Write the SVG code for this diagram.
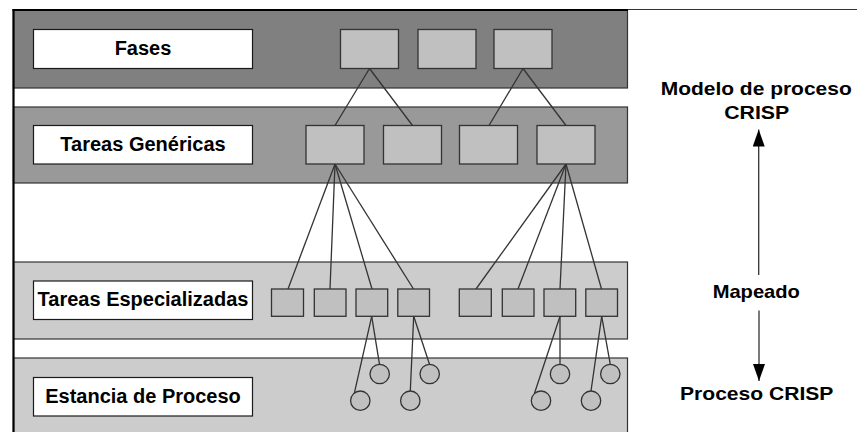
<svg xmlns="http://www.w3.org/2000/svg" width="857" height="432" viewBox="0 0 857 432">
  <style>
    .band { stroke: #333333; stroke-width: 1.2; }
    .b1 { fill: #808080; }
    .b2 { fill: #999999; }
    .b3 { fill: #cccccc; }
    .label { fill: #ffffff; stroke: #1a1a1a; stroke-width: 1.2; }
    .box { fill: #c0c0c0; stroke: #333333; stroke-width: 1.3; }
    .circ { fill: #c0c0c0; stroke: #333333; stroke-width: 1.3; }
    .link { stroke: #333333; stroke-width: 1.3; fill: none; }
    .txt { font-family: "Liberation Sans", Arial, sans-serif; font-weight: bold; font-size: 20px; fill: #000000; text-anchor: middle; }
  </style>
  <defs>
    <marker id="head" viewBox="0 0 17 12" refX="17" refY="6" markerWidth="17" markerHeight="12" markerUnits="userSpaceOnUse" orient="auto">
      <path d="M0,0 L17,6 L0,12 Z" fill="#000000"/>
    </marker>
  </defs>

  <rect width="857" height="432" fill="#ffffff"/>

  <!-- layer bands -->
  <g id="bands">
    <rect class="band b1" x="13.5" y="10" width="614" height="78"/>
    <rect class="band b2" x="13.5" y="107" width="614" height="76"/>
    <rect class="band b3" x="13.5" y="262" width="614" height="77"/>
    <rect class="band b3" x="13.5" y="358" width="614" height="80"/>
  </g>

  <!-- outer frame -->
  <g id="frame" stroke="#000000" fill="none">
    <line x1="13.5" y1="9" x2="13.5" y2="432" stroke-width="2.2"/>
    <line x1="12.5" y1="10" x2="628" y2="10" stroke-width="2"/>
    <line x1="628" y1="9.5" x2="857" y2="9.5" stroke-width="1.2" stroke="#333333"/>
  </g>

  <!-- layer labels -->
  <g id="label-fases">
    <rect class="label" x="33.5" y="29.5" width="219" height="39"/>
    <text class="txt" x="143" y="55">Fases</text>
  </g>
  <g id="label-genericas">
    <rect class="label" x="33.5" y="125.5" width="219" height="38.5"/>
    <text class="txt" x="143" y="150.5">Tareas Genéricas</text>
  </g>
  <g id="label-especializadas">
    <rect class="label" x="33.5" y="281" width="219" height="38.5"/>
    <text class="txt" x="143" y="306">Tareas Especializadas</text>
  </g>
  <g id="label-estancia">
    <rect class="label" x="33.5" y="377.5" width="219" height="38.5"/>
    <text class="txt" x="143" y="402.5">Estancia de Proceso</text>
  </g>

  <!-- connectors -->
  <g id="connectors">
    <!-- phases to generic tasks -->
    <line class="link" x1="369.5" y1="68.5" x2="335" y2="125.5"/>
    <line class="link" x1="369.5" y1="68.5" x2="412.5" y2="125.5"/>
    <line class="link" x1="523" y1="68.5" x2="489" y2="125.5"/>
    <line class="link" x1="523" y1="68.5" x2="566" y2="125.5"/>
    <!-- generic to specialized tasks -->
    <line class="link" x1="335" y1="164" x2="288" y2="289"/>
    <line class="link" x1="335" y1="164" x2="330" y2="289"/>
    <line class="link" x1="335" y1="164" x2="372" y2="289"/>
    <line class="link" x1="335" y1="164" x2="413.5" y2="289"/>
    <line class="link" x1="566" y1="164" x2="476" y2="289"/>
    <line class="link" x1="566" y1="164" x2="518" y2="289"/>
    <line class="link" x1="566" y1="164" x2="560" y2="289"/>
    <line class="link" x1="566" y1="164" x2="601.5" y2="289"/>
    <!-- specialized tasks to process instances -->
    <line class="link" x1="371.7" y1="316.3" x2="379.5" y2="364.3"/>
    <line class="link" x1="371.7" y1="316.3" x2="354.3" y2="393.3"/>
    <line class="link" x1="413.7" y1="316.3" x2="410.3" y2="391"/>
    <line class="link" x1="413.7" y1="316.3" x2="429.5" y2="364.3"/>
    <line class="link" x1="560" y1="316.3" x2="560" y2="364.3"/>
    <line class="link" x1="560" y1="316.3" x2="534.5" y2="393.3"/>
    <line class="link" x1="601.7" y1="316.3" x2="591" y2="391"/>
    <line class="link" x1="601.7" y1="316.3" x2="610.3" y2="364.3"/>
  </g>

  <!-- phases -->
  <g id="fase-1"><rect class="box" x="340.5" y="29.5" width="58" height="39"/></g>
  <g id="fase-2"><rect class="box" x="418" y="29.5" width="58" height="39"/></g>
  <g id="fase-3"><rect class="box" x="494" y="29.5" width="58" height="39"/></g>

  <!-- generic tasks -->
  <g id="generica-1"><rect class="box" x="306" y="125.5" width="58" height="38.5"/></g>
  <g id="generica-2"><rect class="box" x="383.5" y="125.5" width="58" height="38.5"/></g>
  <g id="generica-3"><rect class="box" x="459.5" y="125.5" width="58" height="38.5"/></g>
  <g id="generica-4"><rect class="box" x="537" y="125.5" width="58" height="38.5"/></g>

  <!-- specialized tasks -->
  <g id="especializada-1"><rect class="box" x="271.5" y="289" width="32" height="27.3"/></g>
  <g id="especializada-2"><rect class="box" x="314.3" y="289" width="31.7" height="27.3"/></g>
  <g id="especializada-3"><rect class="box" x="356" y="289" width="31.7" height="27.3"/></g>
  <g id="especializada-4"><rect class="box" x="397.8" y="289" width="31.7" height="27.3"/></g>
  <g id="especializada-5"><rect class="box" x="459.3" y="289" width="32" height="27.3"/></g>
  <g id="especializada-6"><rect class="box" x="502.3" y="289" width="31.7" height="27.3"/></g>
  <g id="especializada-7"><rect class="box" x="544" y="289" width="31.7" height="27.3"/></g>
  <g id="especializada-8"><rect class="box" x="585.8" y="289" width="31.7" height="27.3"/></g>

  <!-- process instances -->
  <g id="estancia-1"><circle class="circ" cx="379.7" cy="374" r="9.7"/></g>
  <g id="estancia-2"><circle class="circ" cx="360.3" cy="400.7" r="9.7"/></g>
  <g id="estancia-3"><circle class="circ" cx="410.3" cy="400.7" r="9.7"/></g>
  <g id="estancia-4"><circle class="circ" cx="429.7" cy="374" r="9.7"/></g>
  <g id="estancia-5"><circle class="circ" cx="560" cy="374" r="9.7"/></g>
  <g id="estancia-6"><circle class="circ" cx="541" cy="400.7" r="9.7"/></g>
  <g id="estancia-7"><circle class="circ" cx="591" cy="400.7" r="9.7"/></g>
  <g id="estancia-8"><circle class="circ" cx="610.3" cy="374" r="9.7"/></g>

  <!-- mapping legend -->
  <g id="mapeo">
    <text class="txt" x="756.2" y="95" textLength="191" lengthAdjust="spacingAndGlyphs" style="font-size:19px">Modelo de proceso</text>
    <text class="txt" x="756.7" y="119.3" textLength="65" lengthAdjust="spacingAndGlyphs" style="font-size:19px">CRISP</text>
    <line x1="758.7" y1="275" x2="758.7" y2="129.5" stroke="#333333" stroke-width="1.3" marker-end="url(#head)"/>
    <text class="txt" x="756.3" y="298.3" textLength="87.3" lengthAdjust="spacingAndGlyphs" style="font-size:19px">Mapeado</text>
    <line x1="759" y1="310.5" x2="759" y2="381" stroke="#333333" stroke-width="1.3" marker-end="url(#head)"/>
    <text class="txt" x="756.7" y="400" textLength="153.3" lengthAdjust="spacingAndGlyphs" style="font-size:19px">Proceso CRISP</text>
  </g>
</svg>
